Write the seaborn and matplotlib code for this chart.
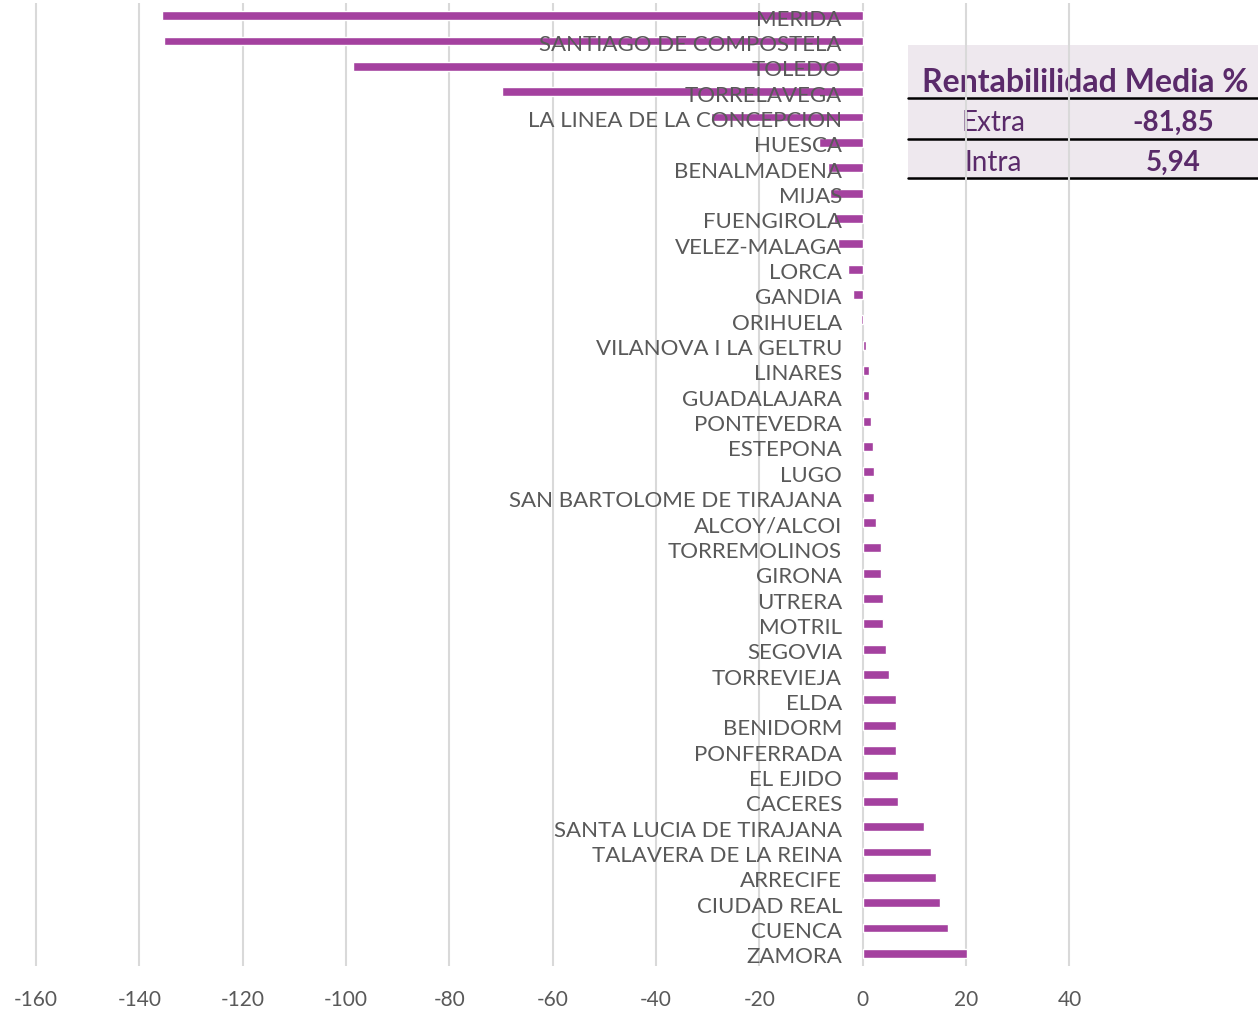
import matplotlib.pyplot as plt
import matplotlib.transforms as mtransforms
import pandas as pd
import seaborn as sns
from matplotlib.patches import Rectangle
from matplotlib.lines import Line2D

# datos
ciudades = [
    "MERIDA", "SANTIAGO DE COMPOSTELA", "TOLEDO", "TORRELAVEGA", "LA LINEA DE LA CONCEPCION",
    "HUESCA", "BENALMADENA", "MIJAS", "FUENGIROLA", "VELEZ-MALAGA", "LORCA", "GANDIA",
    "ORIHUELA", "VILANOVA I LA GELTRU", "LINARES", "GUADALAJARA", "PONTEVEDRA", "ESTEPONA",
    "LUGO", "SAN BARTOLOME DE TIRAJANA", "ALCOY/ALCOI", "TORREMOLINOS", "GIRONA", "UTRERA",
    "MOTRIL", "SEGOVIA", "TORREVIEJA", "ELDA", "BENIDORM", "PONFERRADA", "EL EJIDO",
    "CACERES", "SANTA LUCIA DE TIRAJANA", "TALAVERA DE LA REINA", "ARRECIFE", "CIUDAD REAL",
    "CUENCA", "ZAMORA",
]
rentabilidad = [
    -135.7, -135.3, -98.7, -69.8, -29.4,
    -8.5, -6.8, -6.4, -5.6, -4.8, -2.9, -1.9,
    -0.3, 0.7, 1.3, 1.3, 1.5, 1.9,
    2.1, 2.1, 2.5, 3.6, 3.6, 3.95,
    3.95, 4.4, 5.1, 6.5, 6.5, 6.5, 6.8,
    6.8, 11.9, 13.2, 14.25, 14.9,
    16.45, 20.1,
]
tabla_titulo = "Rentabililidad Media %"
tabla_filas = ["Extra", "Intra"]
tabla_valores = ["-81,85", "5,94"]
x_ticks = [-160, -140, -120, -100, -80, -60, -40, -20, 0, 20, 40]

df = pd.DataFrame({"ciudad": ciudades, "valor": rentabilidad})

sns.set_style("white")
plt.rcParams["font.family"] = ["Lato", "DejaVu Sans"]

W, H = 1258, 1011
fig = plt.figure(figsize=(W / 100, H / 100), dpi=100)


def fx(px):
    return px / W


def fy(py):
    return 1 - py / H


ax = fig.add_axes([0, fy(966), 1, (966 - 3) / H])
ax.set_facecolor("none")
fig.patch.set_facecolor("white")

sns.barplot(data=df, x="valor", y="ciudad", orient="h", color="#A4419F",
            saturation=1, width=0.35, ax=ax, zorder=1)

ax.set_xlim(-167.0, 76.5)
ax.set_ylim(len(ciudades) - 0.5, -0.5)
ax.set_xticks(x_ticks)
ax.set_xticklabels([str(t) for t in x_ticks])
ax.set_xlabel("")
ax.set_ylabel("")
ax.grid(False)
# rejilla vertical por debajo de las barras, etiquetas por encima
for t in x_ticks:
    ax.axvline(t, color="#D9D9D9", linewidth=1.5, zorder=0.5)
ax.xaxis.set_zorder(3)
ax.yaxis.set_zorder(3)
for s in ax.spines.values():
    s.set_visible(False)
ax.spines["left"].set_position(("data", 0))
ax.tick_params(axis="y", length=0, pad=15, labelsize=16, labelcolor="#595959")
ax.tick_params(axis="x", length=0, pad=17, labelsize=15, labelcolor="#595959")

# etiquetas un poco por debajo de la barra, como en el original
desplaza = mtransforms.ScaledTranslation(0, -2 / 100, fig.dpi_scale_trans)
for lab in ax.get_yticklabels():
    lab.set_transform(lab.get_transform() + desplaza)

# tabla de rentabilidad media (detras de la rejilla)
purpura = "#5A2A6A"
fig.add_artist(Rectangle((fx(908), fy(180)), fx(1258) - fx(908), fy(45) - fy(180),
                         transform=fig.transFigure, facecolor="#EEE8EE",
                         edgecolor="none", zorder=-2))
for yl in [98, 139, 178]:
    fig.add_artist(Line2D([fx(908), fx(1258)], [fy(yl), fy(yl)], transform=fig.transFigure,
                          color="black", linewidth=1.8, zorder=-1))
fig.text(fx(922), fy(83), tabla_titulo, ha="left", va="center", fontsize=23,
         fontweight="bold", color=purpura, zorder=-1)
for i, (fila, val) in enumerate(zip(tabla_filas, tabla_valores)):
    yc = 123 + i * 40
    fig.text(fx(993), fy(yc), fila, ha="center", va="center", fontsize=20,
             color=purpura, zorder=-1)
    fig.text(fx(1173), fy(yc), val, ha="center", va="center", fontsize=20,
             fontweight="bold", color=purpura, zorder=-1)

fig.savefig("out.png", dpi=100)
